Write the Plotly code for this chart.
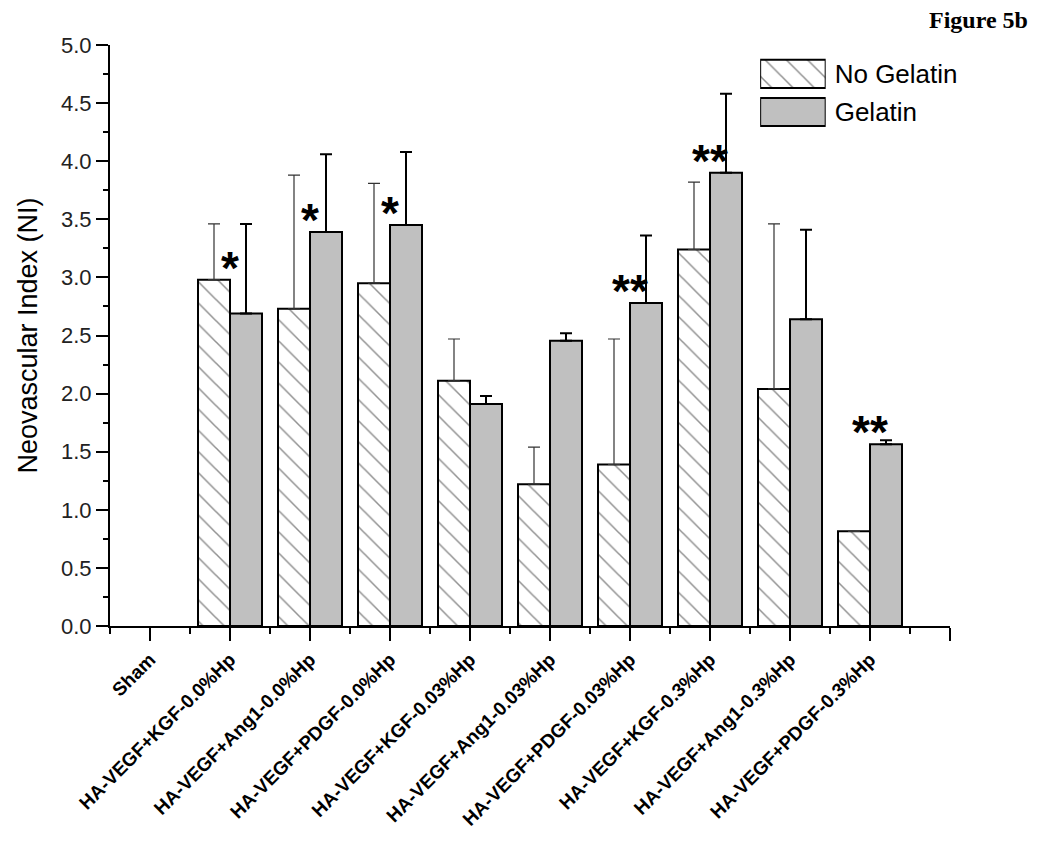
import plotly.graph_objects as go

categories = ["Sham",
              "HA-VEGF+KGF-0.0%Hp", "HA-VEGF+Ang1-0.0%Hp", "HA-VEGF+PDGF-0.0%Hp",
              "HA-VEGF+KGF-0.03%Hp", "HA-VEGF+Ang1-0.03%Hp", "HA-VEGF+PDGF-0.03%Hp",
              "HA-VEGF+KGF-0.3%Hp", "HA-VEGF+Ang1-0.3%Hp", "HA-VEGF+PDGF-0.3%Hp"]
no_gelatin = [None, 2.98, 2.73, 2.95, 2.11, 1.22, 1.39, 3.24, 2.04, 0.815]
no_gelatin_err = [0, 0.48, 1.15, 0.86, 0.36, 0.32, 1.08, 0.58, 1.42, 0.0]
gelatin = [None, 2.69, 3.39, 3.45, 1.91, 2.455, 2.78, 3.90, 2.64, 1.564]
gelatin_err = [0, 0.77, 0.67, 0.63, 0.07, 0.065, 0.58, 0.68, 0.77, 0.035]
significance = ["", "*", "*", "*", "", "", "**", "**", "", "**"]
series_names = ["No Gelatin", "Gelatin"]

xs = list(range(len(categories)))
FONT = "Arial, Liberation Sans"

ng_marker = dict(color="white", line=dict(color="black", width=2),
                 pattern=dict(shape="\\", fgcolor="#222222", bgcolor="white",
                              size=15, solidity=0.1))
g_marker = dict(color="#c0c0c0", line=dict(color="black", width=2))

fig = go.Figure()
fig.add_trace(go.Bar(
    x=xs, y=no_gelatin, name=series_names[0], marker=ng_marker,
    error_y=dict(type="data", symmetric=False, array=no_gelatin_err,
                 arrayminus=[0] * len(xs), color="#333333", thickness=1.2, width=6),
))
fig.add_trace(go.Bar(
    x=xs, y=gelatin, name=series_names[1], marker=g_marker,
    error_y=dict(type="data", symmetric=False, array=gelatin_err,
                 arrayminus=[0] * len(xs), color="black", thickness=2, width=6),
))

# legend built as a small auxiliary bar chart so the swatches are large
fig.add_trace(go.Bar(
    y=[series_names[0]], x=[1], orientation="h", marker=ng_marker, width=0.74,
    xaxis="x2", yaxis="y2", showlegend=False, hoverinfo="skip",
))
fig.add_trace(go.Bar(
    y=[series_names[1]], x=[1], orientation="h", marker=g_marker, width=0.74,
    xaxis="x2", yaxis="y2", showlegend=False, hoverinfo="skip",
))

for i, s in enumerate(significance):
    if s:
        top = max(v for v in (no_gelatin[i], gelatin[i]) if v is not None)
        fig.add_annotation(x=i, y=top, xref="x", yref="y", text="<b>%s</b>" % s,
                           showarrow=False, yanchor="bottom", yshift=-16,
                           font=dict(family=FONT, size=46, color="black"))

fig.add_annotation(x=1.0, y=1.0, xref="paper", yref="paper", xanchor="right", yanchor="top",
                   xshift=80, yshift=40,
                   text="<b>Figure 5b</b>", showarrow=False,
                   font=dict(family="Liberation Serif, Times New Roman", size=24, color="black"))

fig.update_layout(
    width=1050, height=842,
    margin=dict(l=102, r=108, t=37, b=224),
    paper_bgcolor="white", plot_bgcolor="white",
    barmode="group", bargap=0.2, bargroupgap=0,
    font=dict(family=FONT, color="black"),
    showlegend=False,
    xaxis=dict(
        range=[-0.5, 10.0],
        tickmode="array", tickvals=xs + [10], ticktext=categories + [""],
        tickangle=-45,
        tickfont=dict(family=FONT, size=19, color="black", weight="bold"),
        ticks="outside", ticklen=13, tickwidth=2, tickcolor="black",
        showline=True, linecolor="black", linewidth=2,
        showgrid=False, zeroline=False,
        minor=dict(tickmode="linear", tick0=0.5, dtick=1, ticks="outside", ticklen=6,
                   tickwidth=2, tickcolor="black", showgrid=False),
    ),
    yaxis=dict(
        range=[0, 5.0], tickmode="linear", tick0=0, dtick=0.5, tickformat=".1f",
        tickfont=dict(family=FONT, size=22, color="#222222"),
        ticks="outside", ticklen=12, tickwidth=2, tickcolor="black",
        showline=True, linecolor="black", linewidth=2,
        showgrid=False, zeroline=False,
        minor=dict(tickmode="linear", tick0=0.25, dtick=0.5, ticks="outside", ticklen=5,
                   tickwidth=2, tickcolor="black", showgrid=False),
        title=dict(text="Neovascular Index (NI)", font=dict(size=27, family=FONT),
                   standoff=16),
    ),
    xaxis2=dict(domain=[0.774, 0.852], anchor="y2", range=[0, 1], visible=False,
                fixedrange=True),
    yaxis2=dict(domain=[0.852, 0.983], anchor="x2", side="right",
                categoryorder="array", categoryarray=series_names, autorange="reversed",
                showline=False, showgrid=False, zeroline=False, ticks="",
                ticklabelstandoff=8,
                tickfont=dict(family=FONT, size=26, color="black")),
)

fig.write_html("out.html")
